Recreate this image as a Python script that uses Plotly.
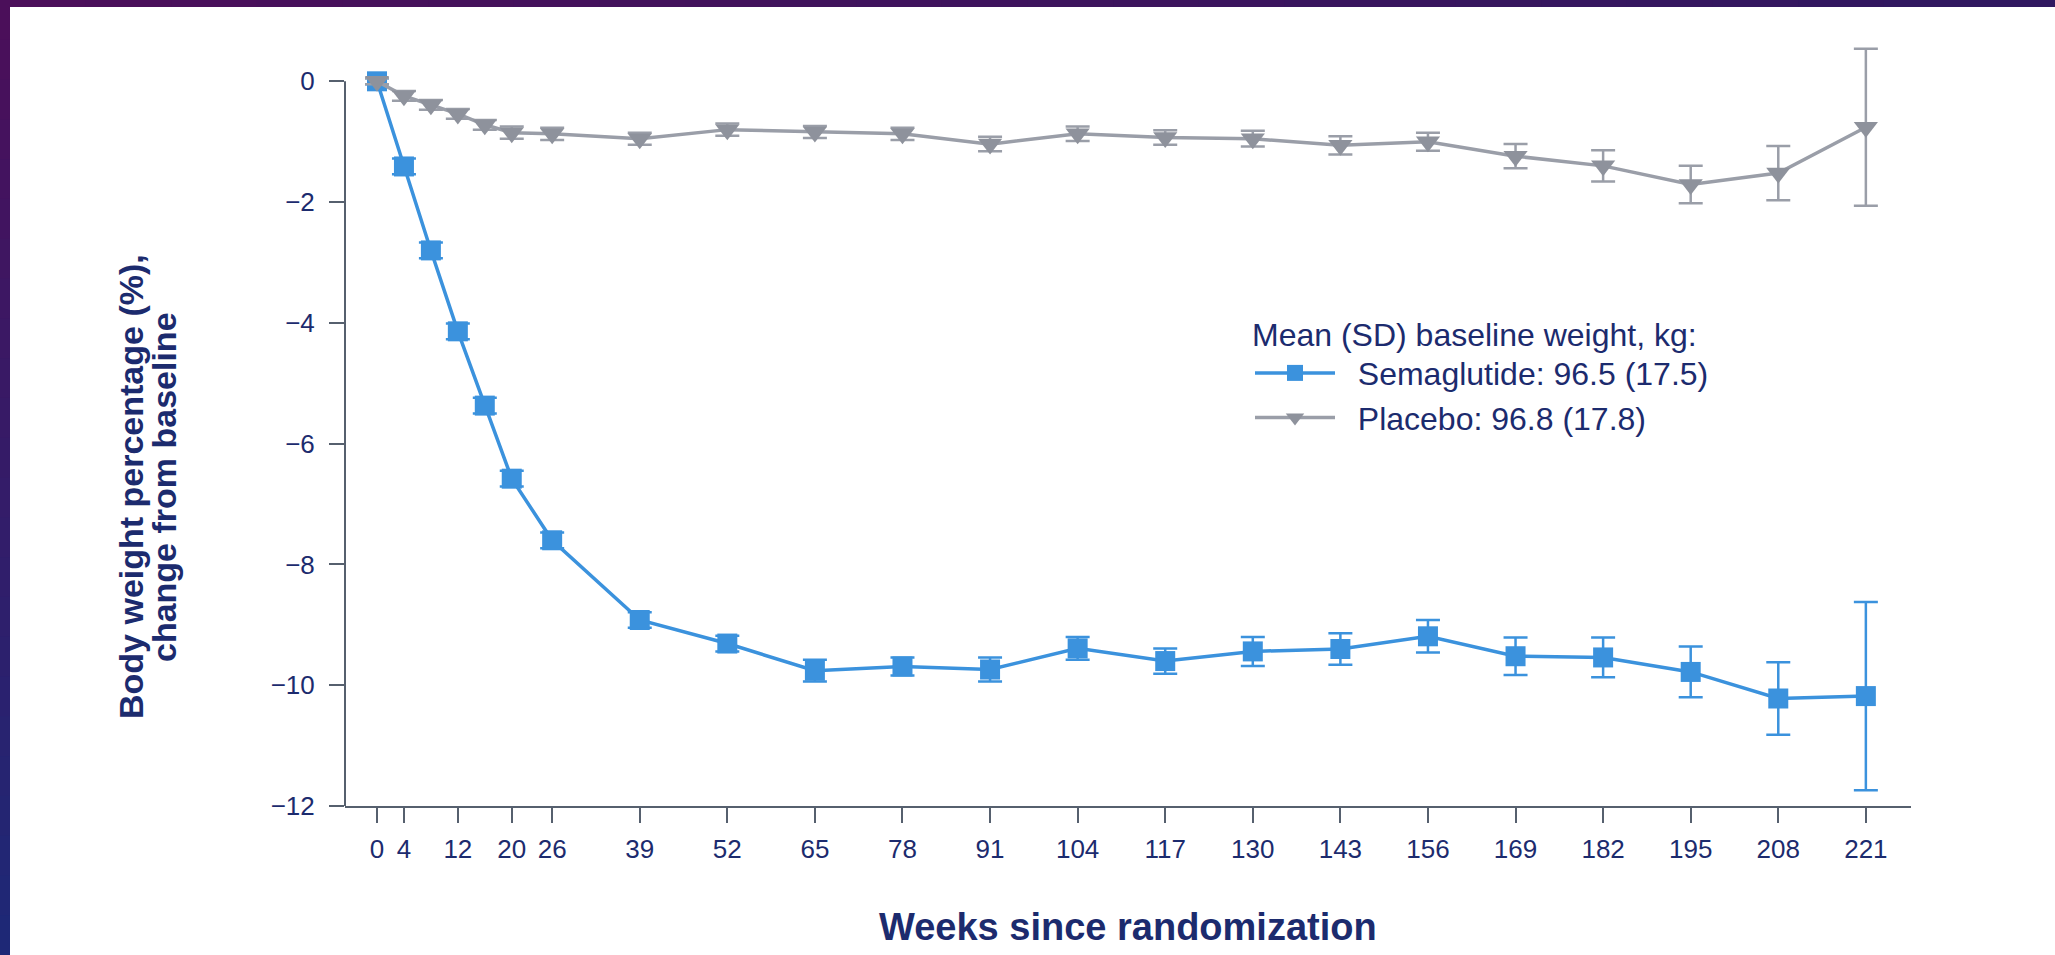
import plotly.graph_objects as go

# data (percent change from baseline body weight)
weeks = [0, 4, 8, 12, 16, 20, 26, 39, 52, 65, 78, 91, 104, 117, 130, 143,
         156, 169, 182, 195, 208, 221]
sema_mean = [0, -1.41, -2.80, -4.14, -5.37, -6.58, -7.60, -8.92, -9.31, -9.76,
             -9.69, -9.74, -9.39, -9.60, -9.44, -9.40, -9.19, -9.52, -9.54,
             -9.78, -10.22, -10.18]
sema_err = [0.05, 0.13, 0.13, 0.13, 0.13, 0.13, 0.13, 0.13, 0.13, 0.18, 0.15,
            0.20, 0.19, 0.21, 0.24, 0.26, 0.27, 0.31, 0.33, 0.42, 0.60, 1.56]
plac_mean = [0, -0.24, -0.39, -0.54, -0.72, -0.85, -0.87, -0.95, -0.80, -0.84,
             -0.87, -1.04, -0.87, -0.93, -0.95, -1.06, -1.00, -1.24, -1.40,
             -1.71, -1.52, -0.76]
plac_err = [0.05, 0.08, 0.08, 0.08, 0.08, 0.10, 0.10, 0.10, 0.10, 0.10, 0.10,
            0.12, 0.12, 0.12, 0.13, 0.15, 0.15, 0.20, 0.26, 0.31, 0.45, 1.30]

tick_weeks = [0, 4, 12, 20, 26, 39, 52, 65, 78, 91, 104, 117, 130, 143, 156,
              169, 182, 195, 208, 221]
y_ticks = [0, -2, -4, -6, -8, -10, -12]

series_names = ["Semaglutide: 96.5 (17.5)", "Placebo: 96.8 (17.8)"]
legend_title = "Mean (SD) baseline weight, kg:"
x_title = "Weeks since randomization"
y_title = ["Body weight percentage (%),", "change from baseline"]

BLUE = "#3b92dd"
GREY = "#9a9ea8"
NAVY = "#1c2b6e"
AXIS = "#56606e"
FONT = "Arial, Liberation Sans, sans-serif"

W, H = 2055, 955
L, R, T, B = 345, 144, 33, 149
PW, PH = W - L - R, H - T - B


def px(xp):
    return (xp - L) / PW


def py(yp):
    return (H - B - yp) / PH


fig = go.Figure()
fig.add_trace(go.Scatter(
    x=weeks, y=sema_mean, mode="lines+markers", name="\u00a0\u00a0" + series_names[0],
    line=dict(color=BLUE, width=3.5),
    marker=dict(symbol="square", size=20, color=BLUE),
    error_y=dict(type="data", array=sema_err, color=BLUE, thickness=2.5, width=12),
    cliponaxis=False,
))
fig.add_trace(go.Scatter(
    x=weeks, y=plac_mean, mode="lines+markers", name="\u00a0\u00a0" + series_names[1],
    line=dict(color=GREY, width=3.5),
    marker=dict(symbol="triangle-down", size=21, color="#8e929c"),
    error_y=dict(type="data", array=plac_err, color=GREY, thickness=2.5, width=12),
    cliponaxis=False,
))

# y axis line only from -12 to 0
shapes = [dict(type="line", xref="paper", yref="y", x0=0, x1=0, y0=-12, y1=0,
               line=dict(color=AXIS, width=2))]

# slide frame: purple strip on the left and along the top
n = 24
c0, c1 = (75, 15, 90), (30, 40, 118)
c2 = (48, 24, 96)
for i in range(n):
    f = i / (n - 1)
    col = "rgb(%d,%d,%d)" % tuple(round(a + (b - a) * f) for a, b in zip(c0, c1))
    shapes.append(dict(type="rect", xref="paper", yref="paper",
                       x0=px(-4), x1=px(10),
                       y0=py(H * (i + 1) / n + 2), y1=py(H * i / n),
                       fillcolor=col, line=dict(width=0), layer="above"))
    col = "rgb(%d,%d,%d)" % tuple(round(a + (b - a) * f) for a, b in zip(c0, c2))
    shapes.append(dict(type="rect", xref="paper", yref="paper",
                       x0=px(W * i / n), x1=px(W * (i + 1) / n + 2),
                       y0=py(7), y1=py(-4),
                       fillcolor=col, line=dict(width=0), layer="above"))

annotations = [
    dict(text=x_title, xref="paper", yref="paper", x=0.5, y=py(927),
         showarrow=False, font=dict(size=38, color=NAVY, family=FONT, weight="bold"),
         xanchor="center", yanchor="middle"),
    dict(text=y_title[0], xref="paper", yref="paper", x=px(131), y=py(487),
         textangle=-90, showarrow=False,
         font=dict(size=34, color=NAVY, family=FONT, weight="bold"),
         xanchor="center", yanchor="middle"),
    dict(text=y_title[1], xref="paper", yref="paper", x=px(164), y=py(487),
         textangle=-90, showarrow=False,
         font=dict(size=34, color=NAVY, family=FONT, weight="bold"),
         xanchor="center", yanchor="middle"),
]

fig.update_layout(
    width=W, height=H,
    margin=dict(l=L, r=R, t=T, b=B),
    paper_bgcolor="white", plot_bgcolor="white",
    font=dict(family=FONT, color=NAVY),
    shapes=shapes, annotations=annotations,
    legend=dict(
        x=px(1250), y=py(304), xanchor="left", yanchor="top",
        title=dict(text=legend_title, font=dict(size=32, color=NAVY, family=FONT)),
        font=dict(size=32, color=NAVY, family=FONT),
        itemwidth=80, bgcolor="rgba(0,0,0,0)", tracegroupgap=0,
    ),
)
fig.update_xaxes(
    range=[-4.75, 227.7], tickmode="array", tickvals=tick_weeks,
    ticktext=[str(w) for w in tick_weeks],
    showline=True, linecolor=AXIS, linewidth=2,
    ticks="outside", ticklen=15, tickwidth=2, tickcolor=AXIS,
    tickfont=dict(size=26, color=NAVY, family=FONT), ticklabelstandoff=4,
    showgrid=False, zeroline=False,
)
fig.update_yaxes(
    range=[-12, 0.8], tickmode="array", tickvals=y_ticks,
    showline=False,
    ticks="outside", ticklen=15, tickwidth=2, tickcolor=AXIS,
    tickfont=dict(size=26, color=NAVY, family=FONT), ticklabelstandoff=9,
    showgrid=False, zeroline=False,
)

# the page's default body margin would push the figure 8px right and down
fig.write_html("out.html", config={"displayModeBar": False},
               post_script="document.body.style.margin = '0';")
